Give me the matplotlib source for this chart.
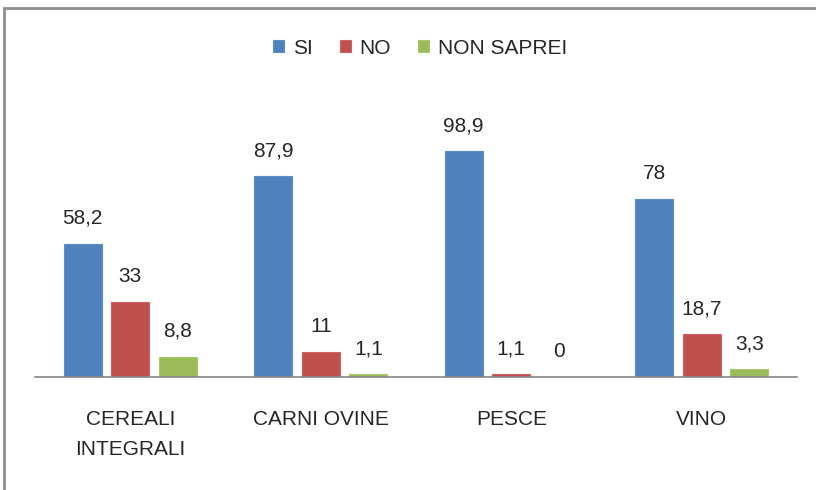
import matplotlib
matplotlib.use("Agg")
import matplotlib.pyplot as plt
from matplotlib.patches import Rectangle
import numpy as np

categories = ["CEREALI\nINTEGRALI", "CARNI OVINE", "PESCE", "VINO"]
series_names = ["SI", "NO", "NON SAPREI"]
si = [58.2, 87.9, 98.9, 78]
no = [33, 11, 1.1, 18.7]
non_saprei = [8.8, 1.1, 0, 3.3]
colors = ["#4F81BD", "#C0504D", "#9BBB59"]
edges = ["#5b8cc6", "#cf6360", "#a8c66a"]

plt.rcParams['font.family'] = ['Liberation Sans', 'DejaVu Sans']

W, H = 816, 490
fig = plt.figure(figsize=(W/100, H/100), dpi=100)
ax = fig.add_axes([35/W, (H-377)/H, (797-35)/W, (377-103)/H])

x = np.arange(len(categories))
offsets = [-0.25, 0, 0.25]
width = 0.2
for vals, name, c, ec, off in zip([si, no, non_saprei], series_names, colors, edges, offsets):
    bars = ax.bar(x + off, vals, width, color=c, edgecolor=ec, linewidth=0.8, label=name, zorder=2)
    for b, v in zip(bars, vals):
        txt = f"{v:g}".replace(".", ",")
        ax.annotate(txt, (b.get_x() + b.get_width()/2, b.get_height()),
                    xytext=(0, 14.5), textcoords="offset points",
                    ha="center", va="baseline", fontsize=15, color="#262626")

ax.set_xlim(-0.5, len(categories) - 0.5)
ax.set_ylim(0, 120)
ax.set_xticks(x)
ax.set_xticklabels(categories, fontsize=15, color="#262626", linespacing=1.75)
ax.tick_params(axis='x', length=0, pad=23.5)
ax.set_yticks([])
for s in ["top", "right", "left"]:
    ax.spines[s].set_visible(False)
ax.spines["bottom"].set_color("#868686")
ax.spines["bottom"].set_linewidth(1.2)

fig.legend(loc="center", bbox_to_anchor=(420/W, 1 - 48/H), ncol=3, frameon=False,
           fontsize=15, handlelength=0.55, handleheight=0.55, handletextpad=0.4,
           columnspacing=1.3, labelcolor="#262626")

fig.patches.append(Rectangle((4/W, -0.1), 1.2, (1 - 8.5/H) + 0.1, fill=False,
                             edgecolor="#8c8c8c", linewidth=2, transform=fig.transFigure,
                             clip_on=False))

fig.savefig("out.png", dpi=100)
